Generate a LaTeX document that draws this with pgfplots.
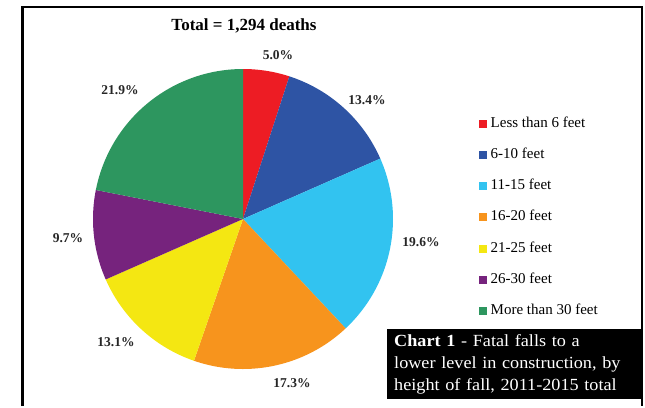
\documentclass[border=0pt]{standalone}
\usepackage{pgfplots}
\pgfplotsset{compat=1.18}
\usepackage{fontspec}
\setmainfont{Liberation Serif}
\newfontfamily\capfont[FakeStretch=1.07]{Liberation Serif}

\definecolor{cRed}{RGB}{237,28,36}
\definecolor{cBlue}{RGB}{46,84,164}
\definecolor{cCyan}{RGB}{50,195,240}
\definecolor{cOrange}{RGB}{247,148,29}
\definecolor{cYellow}{RGB}{244,231,18}
\definecolor{cPurple}{RGB}{118,35,125}
\definecolor{cGreen}{RGB}{45,150,95}

% pie centre and radius (axis units = pt)
\def\cx{243}
\def\cy{219}
\def\rad{150}
\def\pstart{0}
% one wedge per call: share in %, colour, legend text
\newcommand\pieslice[3]{%
  \pgfmathsetmacro\pend{\pstart+#1}%
  \edef\temp{\noexpand\addplot[fill=#2, draw=none, domain=\pstart:\pend, samples=60, variable=\noexpand\t]
    ({\cx+\rad*sin(3.6*\noexpand\t)}, {\cy-\rad*cos(3.6*\noexpand\t)}) -- (axis cs:\cx,\cy) -- cycle;}%
  \temp
  \addlegendentry{#3}%
  \global\let\pstart\pend
}

\begin{document}
\begin{tikzpicture}
\begin{axis}[
  width=645pt, height=406pt, scale only axis,
  xmin=0, xmax=645, ymin=0, ymax=406, y dir=reverse,
  hide axis, clip=false,
  legend style={at={(axis cs:479,117)}, anchor=north west, draw=none, fill=none,
    font=\fontsize{15}{18}\selectfont, row sep=18.2pt, column sep=3.5pt,
    inner sep=0pt, nodes={inner sep=0pt, text height=10pt, text depth=3pt}},
  legend cell align=left,
  legend image code/.code={\fill[#1] (0pt,-4pt) rectangle (8pt,4pt);},
]
\path (axis cs:0,0) rectangle (axis cs:645,406);

\pieslice{5.0}{cRed}{Less than 6 feet}
\pieslice{13.4}{cBlue}{6-10 feet}
\pieslice{19.6}{cCyan}{11-15 feet}
\pieslice{17.3}{cOrange}{16-20 feet}
\pieslice{13.1}{cYellow}{21-25 feet}
\pieslice{9.7}{cPurple}{26-30 feet}
\pieslice{21.9}{cGreen}{More than 30 feet}

% frame
\draw[line width=2.6pt] (axis cs:22.7,406) -- (axis cs:22.7,7) -- (axis cs:642,7) -- (axis cs:642,406);

\node[font=\bfseries\fontsize{17}{20}\selectfont, anchor=base] at (axis cs:244,30) {Total = 1,294 deaths};

\begin{scope}[every node/.style={font=\bfseries\fontsize{13.5}{16}\selectfont, text=black!85}]
\node at (axis cs:278,55) {5.0\%};
\node at (axis cs:367,100) {13.4\%};
\node at (axis cs:421,242) {19.6\%};
\node at (axis cs:292,383) {17.3\%};
\node at (axis cs:116,342) {13.1\%};
\node at (axis cs:68,238) {9.7\%};
\node at (axis cs:120,90) {21.9\%};
\end{scope}

\node[fill=black, text=white, anchor=north west, text width=240pt, inner xsep=7pt, inner ysep=3pt,
  minimum height=70pt, align=left, font=\capfont\fontsize{17}{22}\selectfont]
  at (axis cs:387,329) {\textbf{Chart 1} - Fatal falls to a\\lower level in construction, by\\height of fall, 2011-2015 total};
\end{axis}
\end{tikzpicture}
\end{document}
